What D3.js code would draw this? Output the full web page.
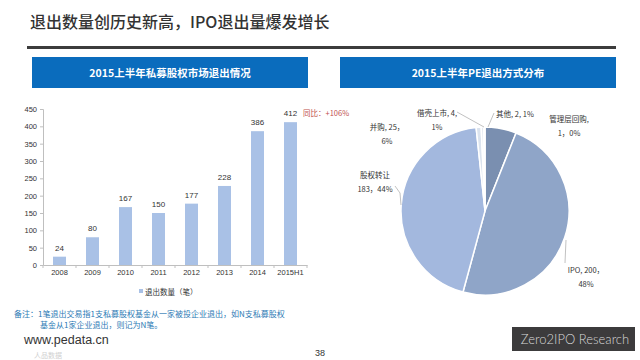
<!DOCTYPE html>
<html><head><meta charset="utf-8">
<script src="https://cdn.jsdelivr.net/npm/d3@7/dist/d3.min.js"></script>
<style>body{margin:0;background:#fff}svg{display:block;font-family:"Noto Sans CJK SC","Noto Sans",sans-serif}</style>
</head><body><svg id="c" width="640" height="360"></svg>
<script>
const years = ["2008","2009","2010","2011","2012","2013","2014","2015H1"];
const exits = [24,80,167,150,177,228,386,412];
const yTicks = [0,50,100,150,200,250,300,350,400,450];
const pieNames = ["并购","IPO","股权转让","借壳上市","其他","管理层回购"];
const pieValues = [25,200,183,4,2,1];
const piePct = ["6%","48%","44%","1%","1%","0%"];

const svg = d3.select("#c");
// title
svg.append("text").attr("x",30).attr("y",28).attr("font-size",16).attr("fill","#333").attr("font-weight",500)
  .text("退出数量创历史新高，IPO退出量爆发增长");
svg.append("rect").attr("x",27).attr("y",46).attr("width",589).attr("height",3).attr("fill","#3c3c3c");
// header boxes
[[32,"2015上半年私募股权市场退出情况"],[340,"2015上半年PE退出方式分布"]].forEach(([x,t])=>{
  svg.append("rect").attr("x",x).attr("y",57).attr("width",276).attr("height",31).attr("fill","#0a6cbd");
  svg.append("text").attr("x",x+138).attr("y",76.5).attr("text-anchor","middle").attr("font-size",10.5)
    .attr("font-weight",700).attr("fill","#fff").text(t);
});

// bar chart
const y = d3.scaleLinear().domain([0,450]).range([265,109]);
const gy = svg.append("g").attr("transform","translate(43,0)")
  .call(d3.axisLeft(y).tickValues(yTicks).tickSize(3).tickPadding(3));
gy.select(".domain").attr("stroke","#bfbfbf");
gy.selectAll(".tick line").attr("stroke","#bfbfbf");
gy.selectAll("text").attr("font-size",7.5).attr("fill","#333").attr("font-family","Arial, Liberation Sans, sans-serif");
const xb = d3.scaleBand().domain(years).range([43,307]);
const gx = svg.append("g").attr("transform","translate(0,265)")
  .call(d3.axisBottom(xb).tickSize(0).tickPadding(5));
gx.select(".domain").attr("stroke","#bfbfbf");
gx.selectAll("text").attr("font-size",7.5).attr("fill","#333").attr("font-family","Arial, Liberation Sans, sans-serif");
gx.selectAll(".sep").data(years.concat(["end"])).join("line")
  .attr("x1",(d,i)=>43+i*xb.step()).attr("x2",(d,i)=>43+i*xb.step()).attr("y1",0).attr("y2",3).attr("stroke","#bfbfbf");
const bw = 13;
svg.selectAll(".bar").data(exits).join("rect")
  .attr("x",(d,i)=>xb(years[i])+xb.bandwidth()/2-bw/2).attr("width",bw)
  .attr("y",d=>y(d)).attr("height",d=>y(0)-y(d)).attr("fill","#a9c1e6");
svg.selectAll(".bl").data(exits).join("text")
  .attr("x",(d,i)=>xb(years[i])+xb.bandwidth()/2).attr("y",d=>y(d)-6).attr("text-anchor","middle")
  .attr("font-size",8).attr("fill","#333").attr("font-family","Arial, Liberation Sans, sans-serif").text(d=>d);
svg.append("text").attr("x",303).attr("y",115.5).attr("font-size",7.5).attr("fill","#c0504d").text("同比：+106%");
// legend
svg.append("rect").attr("x",139).attr("y",289).attr("width",4).attr("height",4).attr("fill","#a9c1e6");
svg.append("text").attr("x",145).attr("y",294.5).attr("font-size",7.5).attr("fill","#333").text("退出数量（笔）");

// pie
const cx=485, cy=211, r=84;
const pie = d3.pie().sort(null).value(d=>d)(pieValues);
const arc = d3.arc().innerRadius(0).outerRadius(r);
const colors = ["#7a8fb0","#8fa5c8","#a3b8de","#dbe3ee","#e6ebf2","#cfd8e6"];
const gp = svg.append("g").attr("transform",`translate(${cx},${cy})`);
gp.selectAll("path").data(pie).join("path").attr("d",arc).attr("fill",(d,i)=>colors[i])
  .attr("stroke","#fff").attr("stroke-width",1.5);
const lbl = [
  {lines:[pieNames[0]+", "+pieValues[0]+"，",piePct[0]], x:387, y:130},
  {lines:[pieNames[1]+", "+pieValues[1]+"，",piePct[1]], x:586, y:273},
  {lines:[pieNames[2],pieValues[2]+"，"+piePct[2]], x:375, y:178},
  {lines:[pieNames[3]+", "+pieValues[3]+",",piePct[3]], x:437, y:116},
  {lines:[pieNames[4]+", "+pieValues[4]+", "+piePct[4]], x:515, y:117},
  {lines:[pieNames[5]+",",pieValues[5]+"，"+piePct[5]], x:569, y:122},
];
lbl.forEach(l=>{
  const t = svg.append("text").attr("font-size",7.5).attr("fill","#333").attr("text-anchor","middle");
  l.lines.forEach((s,k)=>t.append("tspan").attr("x",l.x).attr("y",l.y+k*13.5).text(s));
});
const ll = [
  [[457,112],[484,127]],
  [[494,113],[488,127]],
  [[395,186],[400,193],[401,205]],
  [[565,263],[566,240]],
];
ll.forEach(p=>svg.append("path").attr("d",d3.line()(p)).attr("fill","none").attr("stroke","#a6a6a6").attr("stroke-width",0.7));

// notes
const nt = svg.append("text").attr("font-size",8).attr("fill","#2e7bb5");
nt.append("tspan").attr("x",14).attr("y",317).text("备注：1笔退出交易指1支私募股权基金从一家被投企业退出，如N支私募股权");
nt.append("tspan").attr("x",40).attr("y",328).text("基金从1家企业退出，则记为N笔。");
svg.append("text").attr("x",34).attr("y",358).attr("font-size",7).attr("fill","#d0d0d0").text("人品数据");
svg.append("text").attr("x",24).attr("y",344).attr("font-size",12.5).attr("fill","#333")
  .attr("font-family","Arial, Liberation Sans, sans-serif").text("www.pedata.cn");
svg.append("text").attr("x",320).attr("y",356).attr("font-size",9).attr("fill","#333").attr("text-anchor","middle")
  .attr("font-family","Arial, Liberation Sans, sans-serif").text("38");
svg.append("rect").attr("x",512).attr("y",327).attr("width",123).attr("height",24).attr("fill","#3c3b3c");
svg.append("text").attr("x",575).attr("y",343.5).attr("font-size",13).attr("fill","#d8d8d8").attr("text-anchor","middle")
  .attr("font-family","Lato, sans-serif").attr("font-weight",300).text("Zero2IPO Research");
</script></body></html>
